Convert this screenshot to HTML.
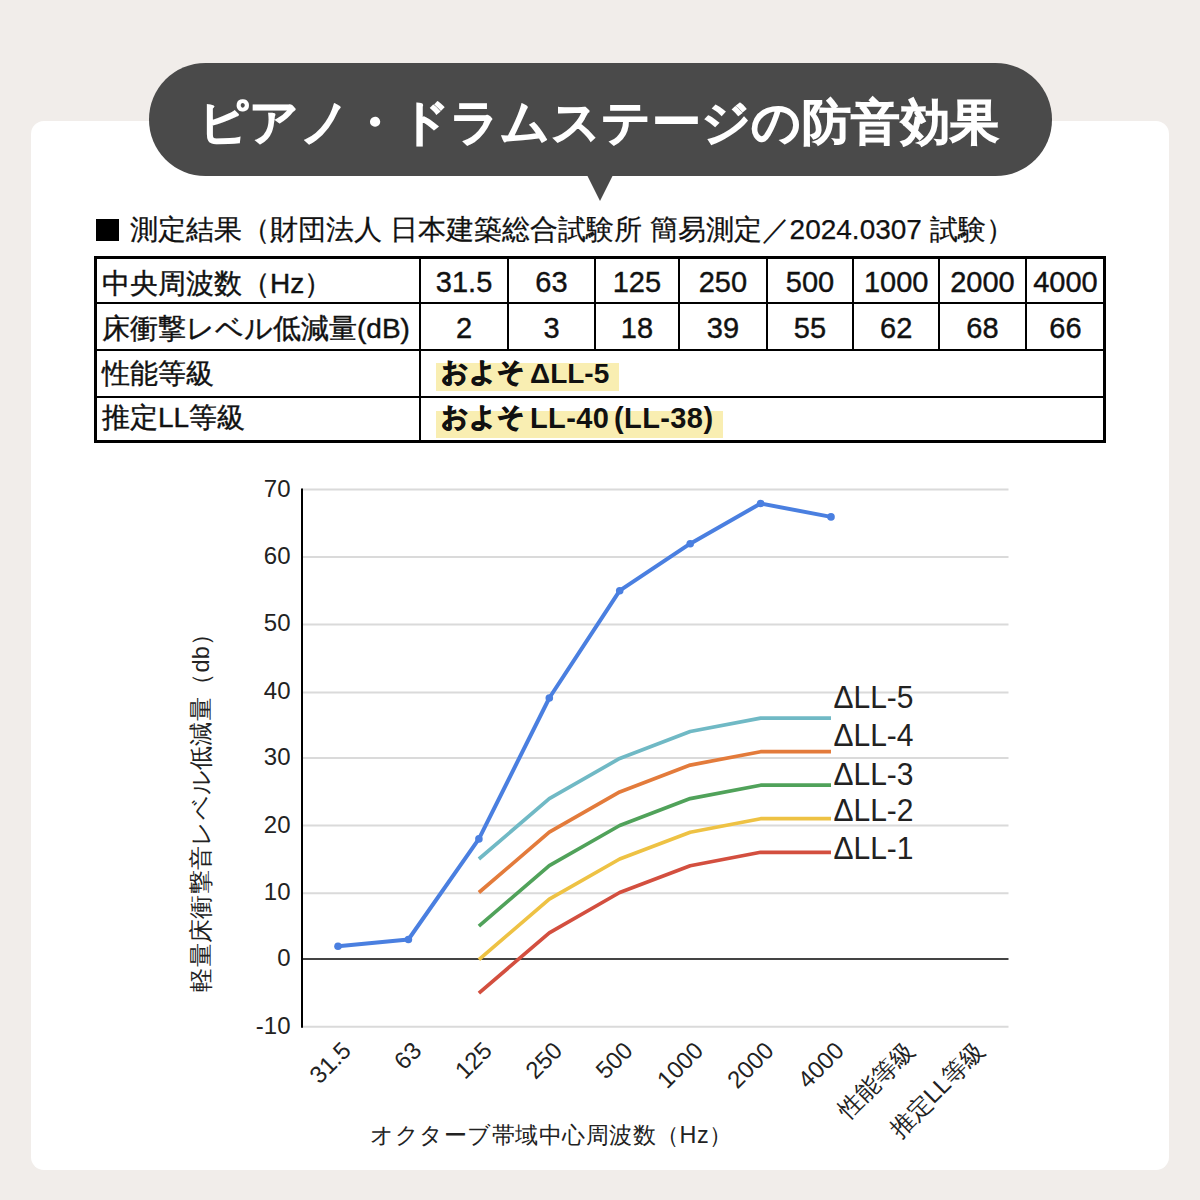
<!DOCTYPE html>
<html><head><meta charset="utf-8">
<style>
*{box-sizing:border-box;margin:0;padding:0}
html,body{width:1200px;height:1200px;overflow:hidden;background:#f1edea;font-family:"Liberation Sans",sans-serif;color:#111}
div{position:absolute}
.card{left:31.25px;top:120.5px;width:1137.25px;height:1049.25px;background:#fff;border-radius:13px}
.bubble{left:149px;top:63.3px;width:902.7px;height:112.7px;background:#4a4a4a;border-radius:56.35px}
.tail{left:586.8px;top:175px;width:0;height:0;border-left:13.5px solid transparent;border-right:13.5px solid transparent;border-top:26.3px solid #4a4a4a}
.title{left:199px;top:92px;font-size:49px;font-weight:normal;color:#fff;white-space:nowrap;line-height:60px;-webkit-text-stroke:2.4px #fff;letter-spacing:0.4px}
.sq{left:96px;top:219px;width:23px;height:22px;background:#000}
.sub{left:130px;top:212px;font-size:28px;white-space:nowrap;line-height:36px;-webkit-text-stroke:0.25px #111}
.ln{background:#000}
.tx,.tc,.tb{font-size:28px;line-height:44px;white-space:nowrap;-webkit-text-stroke:0.4px #111}
.tc{width:100px;text-align:center}
.tb{font-weight:bold;-webkit-text-stroke:0}
.jb{-webkit-text-stroke:1px #111;font-size:26.5px}
.r4{font-size:29px;letter-spacing:0.4px}
.d1{font-size:29px}
.hlb{background:#f9eeb2}
svg{position:absolute;left:0;top:0}
</style></head><body>
<div class="card"></div>
<div class="bubble"></div>
<div class="tail"></div>
<div class="title">ピアノ・ドラムステージの防音効果</div>
<div class="sq"></div>
<div class="sub">測定結果（財団法人 日本建築総合試験所 簡易測定／2024.0307 試験）</div>
<div class="ln" style="left:94px;top:256px;width:1012px;height:3px"></div>
<div class="ln" style="left:94px;top:302px;width:1012px;height:2px"></div>
<div class="ln" style="left:94px;top:348.5px;width:1012px;height:2px"></div>
<div class="ln" style="left:94px;top:395.5px;width:1012px;height:2px"></div>
<div class="ln" style="left:94px;top:440px;width:1012px;height:3px"></div>
<div class="ln" style="left:94px;top:256px;width:3px;height:187px"></div>
<div class="ln" style="left:1103px;top:256px;width:3px;height:187px"></div>
<div class="ln" style="left:507.3px;top:256px;width:2px;height:48px"></div>
<div class="ln" style="left:507.3px;top:302px;width:2px;height:48px"></div>
<div class="ln" style="left:593.7px;top:256px;width:2px;height:48px"></div>
<div class="ln" style="left:593.7px;top:302px;width:2px;height:48px"></div>
<div class="ln" style="left:678px;top:256px;width:2px;height:48px"></div>
<div class="ln" style="left:678px;top:302px;width:2px;height:48px"></div>
<div class="ln" style="left:765.7px;top:256px;width:2px;height:48px"></div>
<div class="ln" style="left:765.7px;top:302px;width:2px;height:48px"></div>
<div class="ln" style="left:852.3px;top:256px;width:2px;height:48px"></div>
<div class="ln" style="left:852.3px;top:302px;width:2px;height:48px"></div>
<div class="ln" style="left:938.2px;top:256px;width:2px;height:48px"></div>
<div class="ln" style="left:938.2px;top:302px;width:2px;height:48px"></div>
<div class="ln" style="left:1024.5px;top:256px;width:2px;height:48px"></div>
<div class="ln" style="left:1024.5px;top:302px;width:2px;height:48px"></div>
<div class="ln" style="left:419px;top:256px;width:2px;height:187px"></div>
<div class="tx" style="left:102px;top:262px">中央周波数（Hz）</div>
<div class="tx" style="left:102px;top:306.5px">床衝撃レベル低減量(dB)</div>
<div class="tx" style="left:102px;top:351.5px">性能等級</div>
<div class="tx" style="left:102px;top:396.0px">推定LL等級</div>
<div class="tc d1" style="left:414.1px;top:260px">31.5</div>
<div class="tc d1" style="left:414.1px;top:306px">2</div>
<div class="tc d1" style="left:501.5px;top:260px">63</div>
<div class="tc d1" style="left:501.5px;top:306px">3</div>
<div class="tc d1" style="left:586.9px;top:260px">125</div>
<div class="tc d1" style="left:586.9px;top:306px">18</div>
<div class="tc d1" style="left:672.9px;top:260px">250</div>
<div class="tc d1" style="left:672.9px;top:306px">39</div>
<div class="tc d1" style="left:760.0px;top:260px">500</div>
<div class="tc d1" style="left:760.0px;top:306px">55</div>
<div class="tc d1" style="left:846.2px;top:260px">1000</div>
<div class="tc d1" style="left:846.2px;top:306px">62</div>
<div class="tc d1" style="left:932.4px;top:260px">2000</div>
<div class="tc d1" style="left:932.4px;top:306px">68</div>
<div class="tc d1" style="left:1015.5px;top:260px">4000</div>
<div class="tc d1" style="left:1015.5px;top:306px">66</div>
<div class="hlb" style="left:435.5px;top:363px;width:183px;height:27.5px"></div>
<div class="hlb" style="left:435.5px;top:410.5px;width:287px;height:27px"></div>
<div class="tb jb" style="left:441px;top:350.0px">およそ</div>
<div class="tb" style="left:530px;top:351.5px">ΔLL-5</div>
<div class="tb jb" style="left:441px;top:394.5px">およそ</div>
<div class="tb r4" style="left:530px;top:396.0px">LL-40</div>
<div class="tb r4" style="left:614px;top:396.0px">(LL-38)</div>
<svg width="1200" height="1200" viewBox="0 0 1200 1200" font-family="Liberation Sans, sans-serif" fill="#222">
<line x1="302" y1="489.6" x2="1008.5" y2="489.6" stroke="#dadada" stroke-width="2"/>
<line x1="302" y1="557.0" x2="1008.5" y2="557.0" stroke="#dadada" stroke-width="2"/>
<line x1="302" y1="624.4" x2="1008.5" y2="624.4" stroke="#dadada" stroke-width="2"/>
<line x1="302" y1="692.4" x2="1008.5" y2="692.4" stroke="#dadada" stroke-width="2"/>
<line x1="302" y1="757.9" x2="1008.5" y2="757.9" stroke="#dadada" stroke-width="2"/>
<line x1="302" y1="825.6" x2="1008.5" y2="825.6" stroke="#dadada" stroke-width="2"/>
<line x1="302" y1="893.3" x2="1008.5" y2="893.3" stroke="#dadada" stroke-width="2"/>
<line x1="302" y1="1026.7" x2="1008.5" y2="1026.7" stroke="#dadada" stroke-width="2"/>
<line x1="302" y1="959.0" x2="1008.5" y2="959.0" stroke="#444" stroke-width="2"/>
<line x1="302" y1="488.6" x2="302" y2="1027.7" stroke="#000" stroke-width="2"/>
<polyline points="478.9,859.0 549.3,798.6 619.7,758.4 690.2,731.5 760.6,718.1 831.0,718.1" fill="none" stroke="#70b9c5" stroke-width="3.7" stroke-linejoin="round" stroke-linecap="butt"/>
<polyline points="478.9,892.5 549.3,832.2 619.7,791.9 690.2,765.1 760.6,751.7 831.0,751.7" fill="none" stroke="#e37b3b" stroke-width="3.7" stroke-linejoin="round" stroke-linecap="butt"/>
<polyline points="478.9,926.1 549.3,865.7 619.7,825.5 690.2,798.6 760.6,785.2 831.0,785.2" fill="none" stroke="#50a25a" stroke-width="3.7" stroke-linejoin="round" stroke-linecap="butt"/>
<polyline points="478.9,959.6 549.3,899.2 619.7,859.0 690.2,832.2 760.6,818.7 831.0,818.7" fill="none" stroke="#eec244" stroke-width="3.7" stroke-linejoin="round" stroke-linecap="butt"/>
<polyline points="478.9,993.1 549.3,932.8 619.7,892.5 690.2,865.7 760.6,852.3 831.0,852.3" fill="none" stroke="#d34f3f" stroke-width="3.7" stroke-linejoin="round" stroke-linecap="butt"/>
<polyline points="338.0,946.2 408.4,939.5 478.9,838.9 549.3,698.0 619.7,590.7 690.2,543.7 760.6,503.5 831.0,516.9" fill="none" stroke="#4a7fe0" stroke-width="4" stroke-linejoin="round"/>
<circle cx="338.0" cy="946.2" r="3.8" fill="#4a7fe0"/>
<circle cx="408.4" cy="939.5" r="3.8" fill="#4a7fe0"/>
<circle cx="478.9" cy="838.9" r="3.8" fill="#4a7fe0"/>
<circle cx="549.3" cy="698.0" r="3.8" fill="#4a7fe0"/>
<circle cx="619.7" cy="590.7" r="3.8" fill="#4a7fe0"/>
<circle cx="690.2" cy="543.7" r="3.8" fill="#4a7fe0"/>
<circle cx="760.6" cy="503.5" r="3.8" fill="#4a7fe0"/>
<circle cx="831.0" cy="516.9" r="3.8" fill="#4a7fe0"/>
<text x="290.5" y="496.6" text-anchor="end" font-size="24">70</text>
<text x="290.5" y="564.0" text-anchor="end" font-size="24">60</text>
<text x="290.5" y="631.4" text-anchor="end" font-size="24">50</text>
<text x="290.5" y="699.4" text-anchor="end" font-size="24">40</text>
<text x="290.5" y="764.9" text-anchor="end" font-size="24">30</text>
<text x="290.5" y="832.6" text-anchor="end" font-size="24">20</text>
<text x="290.5" y="900.3" text-anchor="end" font-size="24">10</text>
<text x="290.5" y="966.0" text-anchor="end" font-size="24">0</text>
<text x="290.5" y="1033.7" text-anchor="end" font-size="24">-10</text>
<text x="352.5" y="1052" text-anchor="end" font-size="24" transform="rotate(-45 352.5 1052)">31.5</text>
<text x="422.9" y="1052" text-anchor="end" font-size="24" transform="rotate(-45 422.9 1052)">63</text>
<text x="493.4" y="1052" text-anchor="end" font-size="24" transform="rotate(-45 493.4 1052)">125</text>
<text x="563.8" y="1052" text-anchor="end" font-size="24" transform="rotate(-45 563.8 1052)">250</text>
<text x="634.2" y="1052" text-anchor="end" font-size="24" transform="rotate(-45 634.2 1052)">500</text>
<text x="704.7" y="1052" text-anchor="end" font-size="24" transform="rotate(-45 704.7 1052)">1000</text>
<text x="775.1" y="1052" text-anchor="end" font-size="24" transform="rotate(-45 775.1 1052)">2000</text>
<text x="845.5" y="1052" text-anchor="end" font-size="24" transform="rotate(-45 845.5 1052)">4000</text>
<text x="915.9" y="1052" text-anchor="end" font-size="24" transform="rotate(-45 915.9 1052)">性能等級</text>
<text x="986.4" y="1052" text-anchor="end" font-size="24" transform="rotate(-45 986.4 1052)">推定LL等級</text>
<text x="0" y="0" font-size="30" transform="translate(833.5 707.5) scale(1 1.07)">ΔLL-5</text>
<text x="0" y="0" font-size="30" transform="translate(833.5 745.8) scale(1 1.07)">ΔLL-4</text>
<text x="0" y="0" font-size="30" transform="translate(833.5 784.7) scale(1 1.07)">ΔLL-3</text>
<text x="0" y="0" font-size="30" transform="translate(833.5 820.8) scale(1 1.07)">ΔLL-2</text>
<text x="0" y="0" font-size="30" transform="translate(833.5 859) scale(1 1.07)">ΔLL-1</text>
<text x="370" y="1143" font-size="23.4" letter-spacing="0.5">オクターブ帯域中心周波数（Hz）</text>
<text x="0" y="0" font-size="23.6" letter-spacing="0.3" transform="translate(209 991.5) rotate(-90)">軽量床衝撃音レベル低減量（db）</text>
</svg></body></html>
